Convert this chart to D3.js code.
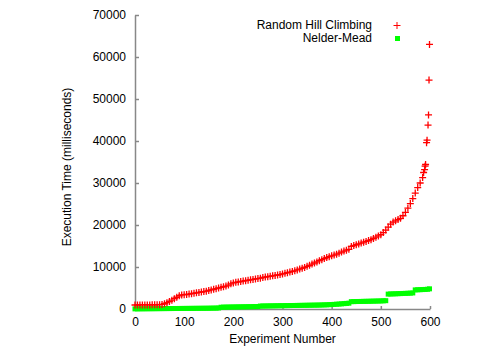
<!DOCTYPE html>
<html>
<head>
<meta charset="utf-8">
<script src="https://cdn.jsdelivr.net/npm/d3@7"></script>
<style>
  body { margin: 0; background: #fff; }
  svg { font-family: "Liberation Sans", Arial, sans-serif; }
  .axis path, .axis line { stroke: #888; stroke-width: 1.5; }
  .axis text { font-size: 12px; fill: #000; }
</style>
</head>
<body>
<svg id="svg" width="500" height="350"></svg>
<script>
var hillExp = [0,5,10,15,20,25,30,35,40,45,50,55,60,65,70,75,80,85,90,95,
  100,105,110,115,120,125,130,135,140,145,150,155,160,165,170,175,180,185,190,195,
  200,205,210,215,220,225,230,235,240,245,250,255,260,265,270,275,280,285,290,295,
  300,305,310,315,320,325,330,335,340,345,350,355,360,365,370,375,380,385,390,395,
  400,405,410,415,420,425,430,435,440,445,450,455,460,465,470,475,480,485,490,495,
  500,505,510,515,520,525,530,535,540,545,550,555,560,565,570,575,580,585,
  587,589,590,591,593,594,596,597,598,599];
var hillTime = [950,950,960,960,970,970,980,990,1000,1000,1020,1080,1250,1500,1800,2100,2450,2800,3150,3350,
  3400,3450,3550,3650,3750,3850,3950,4050,4150,4250,4400,4550,4700,4850,5000,5150,5300,5450,5700,6000,
  6200,6350,6450,6550,6650,6750,6850,6950,7050,7150,7250,7350,7500,7600,7700,7800,7900,8000,8100,8200,
  8350,8500,8650,8800,8950,9100,9300,9500,9700,9900,10150,10400,10700,10950,11200,11500,11750,12000,12250,12450,
  12650,12850,13050,13300,13550,13800,14000,14200,14900,15100,15300,15500,15700,15900,16100,16300,16500,16800,17100,17400,
  17700,18200,18800,19500,20200,20700,21000,21300,21600,22200,23000,24000,25100,26300,27600,28900,30000,31300,
  32500,33200,34000,34400,39600,40200,43800,46200,54500,63000];

var nmExp = [0,5,10,15,20,25,30,35,40,45,50,55,60,65,70,75,80,85,90,95,
  100,105,110,115,120,125,130,135,140,145,150,155,160,165,170,175,180,185,190,195,
  200,205,210,215,220,225,230,235,240,245,250,255,260,265,270,275,280,285,290,295,
  300,305,310,315,320,325,330,335,340,345,350,355,360,365,370,375,380,385,390,395,
  400,405,410,415,420,425,430,435,440,445,450,455,460,465,470,475,480,485,490,495,
  500,505,510,515,520,525,530,535,540,545,550,555,560,565,570,575,580,585,590,595,599];
var nmTime = [30,40,50,50,60,60,70,70,80,80,90,90,100,100,110,110,120,120,130,130,
  140,140,150,150,160,160,170,170,180,180,190,200,210,220,240,420,440,450,460,470,
  480,490,500,510,520,530,540,550,560,570,580,700,710,720,730,740,750,760,770,780,
  790,800,810,820,830,840,850,860,870,880,890,900,910,920,930,940,960,980,1000,1030,
  1060,1100,1140,1180,1230,1280,1330,1380,1750,1760,1780,1790,1800,1820,1830,1840,1860,1870,1890,1900,
  1920,1950,1980,3550,3580,3600,3620,3650,3670,3700,3720,3750,3780,3820,4550,4580,4600,4630,4660,4700,4800];

var xTicks = [0,100,200,300,400,500,600];
var yTicks = [0,10000,20000,30000,40000,50000,60000,70000];
var seriesNames = ["Random Hill Climbing", "Nelder-Mead"];

// SETUP
var svg = d3.select("#svg");
var x = d3.scaleLinear().domain([0, 600]).range([135, 430]);
var y = d3.scaleLinear().domain([0, 70000]).range([309, 15]);

svg.append("g")
  .attr("class", "axis")
  .attr("transform", "translate(0,309)")
  .call(d3.axisBottom(x).tickValues(xTicks).tickFormat(d3.format("d"))
    .tickSizeInner(-3).tickSizeOuter(0).tickPadding(8));

svg.append("g")
  .attr("class", "axis")
  .attr("transform", "translate(135,0)")
  .call(d3.axisLeft(y).tickValues(yTicks).tickFormat(d3.format("d"))
    .tickSizeInner(-4).tickSizeOuter(0).tickPadding(9));

svg.append("text")
  .attr("x", 282.5)
  .attr("y", 343)
  .attr("text-anchor", "middle")
  .attr("font-size", 12)
  .text("Experiment Number");

svg.append("text")
  .attr("transform", "translate(71,167) rotate(-90)")
  .attr("text-anchor", "middle")
  .attr("font-size", 12)
  .text("Execution Time (milliseconds)");

// green squares first, red plus on top
var nm = d3.zip(nmExp, nmTime);
svg.append("g").selectAll("rect")
  .data(nm)
  .enter().append("rect")
  .attr("x", function(d) { return x(d[0]) - 2.5; })
  .attr("y", function(d) { return y(d[1]) - 2.5; })
  .attr("width", 5)
  .attr("height", 5)
  .attr("fill", "#00ff00");

var hill = d3.zip(hillExp, hillTime);
svg.append("g").selectAll("path")
  .data(hill)
  .enter().append("path")
  .attr("d", function(d) {
    var cx = x(d[0]), cy = y(d[1]);
    return "M" + (cx - 3.5) + "," + cy + "H" + (cx + 3.5) + "M" + cx + "," + (cy - 3.5) + "V" + (cy + 3.5);
  })
  .attr("stroke", "#ff0000")
  .attr("stroke-width", 1.3)
  .attr("fill", "none");

// legend
var legend = svg.append("g").attr("font-size", 12).attr("text-anchor", "end");
legend.append("text").attr("x", 372).attr("y", 29).text(seriesNames[0]);
legend.append("text").attr("x", 372).attr("y", 42).text(seriesNames[1]);
legend.append("path")
  .attr("d", "M393.5,25.5H400.5M397,22V29")
  .attr("stroke", "#ff0000")
  .attr("fill", "none");
legend.append("rect")
  .attr("x", 395).attr("y", 36).attr("width", 5).attr("height", 5)
  .attr("fill", "#00ff00");
</script>
</body>
</html>
